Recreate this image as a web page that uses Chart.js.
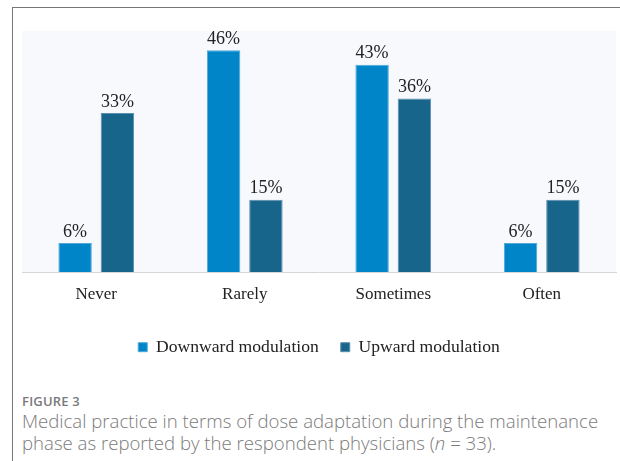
<!DOCTYPE html>
<html lang="en">
<head>
  <meta charset="UTF-8">
  <title>Figure 3 - Dose adaptation</title>
  <script src="https://cdn.jsdelivr.net/npm/chart.js"></script>
  <style>
    html, body { margin: 0; padding: 0; background: #fff; }
    body { width: 620px; height: 461px; position: relative; overflow: hidden; }
    .frame {
      position: absolute; left: 12px; top: 7px; right: 0; bottom: 0;
      border-left: 1.5px solid #777; border-top: 1.5px solid #777;
    }
    .chart-box { position: absolute; left: 13px; top: 8px; width: 607px; height: 358px; }
    .caption {
      position: absolute; left: 22px; top: 392px; width: 598px;
      font-family: "Open Sans", sans-serif; color: #7a7a7a;
    }
    .caption .fig { font-size: 13px; font-weight: 600; letter-spacing: 0.2px; line-height: 18px; }
    .caption p { margin: 0; font-size: 18.6px; font-weight: 300; line-height: 22px; white-space: nowrap; }
  </style>
</head>
<body>
  <div class="frame"></div>
  <div class="chart-box"><canvas id="doseChart"></canvas></div>
  <div class="caption">
    <div class="fig">FIGURE 3</div>
    <p>Medical practice in terms of dose adaptation during the maintenance<br>phase as reported by the respondent physicians (<i>n</i> = 33).</p>
  </div>
  <script>
    // data (percent of physicians)
    const categories = ['Never', 'Rarely', 'Sometimes', 'Often'];
    const downward   = [6, 46, 43, 6];
    const upward     = [33, 15, 36, 15];

    const serif = "'Liberation Serif', 'Times New Roman', serif";

    // light panel behind the plot area
    const panelBg = {
      id: 'panelBg',
      beforeDraw(chart) {
        const { ctx, chartArea: a } = chart;
        ctx.save();
        ctx.fillStyle = '#f7f9fd';
        ctx.fillRect(a.left, a.top, a.right - a.left, a.bottom - a.top);
        ctx.restore();
      }
    };

    // percent labels above each bar
    const valueLabels = {
      id: 'valueLabels',
      afterDatasetsDraw(chart) {
        const ctx = chart.ctx;
        ctx.save();
        ctx.font = '18px ' + serif;
        ctx.fillStyle = '#222';
        ctx.textAlign = 'center';
        ctx.textBaseline = 'bottom';
        chart.data.datasets.forEach((ds, i) => {
          chart.getDatasetMeta(i).data.forEach((bar, j) => {
            ctx.fillText(ds.data[j] + '%', bar.x, bar.y - 2);
          });
        });
        ctx.restore();
      }
    };

    new Chart(document.getElementById('doseChart'), {
      type: 'bar',
      data: {
        labels: categories,
        datasets: [
          { label: 'Downward modulation', data: downward,
            backgroundColor: '#0086c8', borderColor: '#4fa8d8', borderWidth: 1 },
          { label: 'Upward modulation', data: upward,
            backgroundColor: '#17658b', borderColor: '#5a8fb0', borderWidth: 1 }
        ]
      },
      options: {
        responsive: true,
        maintainAspectRatio: false,
        animation: false,
        categoryPercentage: 0.57,
        barPercentage: 0.79,
        layout: { padding: { left: 9, right: 4, top: 23, bottom: 0 } },
        scales: {
          x: {
            grid: { display: false, drawTicks: false },
            border: { color: '#d4d6da', width: 1 },
            ticks: { color: '#222', font: { family: serif, size: 17 }, padding: 12 }
          },
          y: { display: false, min: 0, max: 50 }
        },
        plugins: {
          legend: {
            position: 'bottom',
            labels: {
              color: '#222', font: { family: serif, size: 17.6 },
              boxWidth: 9, boxHeight: 9, padding: 22, useBorderRadius: false
            }
          },
          tooltip: { enabled: false }
        }
      },
      plugins: [panelBg, valueLabels]
    });
  </script>
</body>
</html>
